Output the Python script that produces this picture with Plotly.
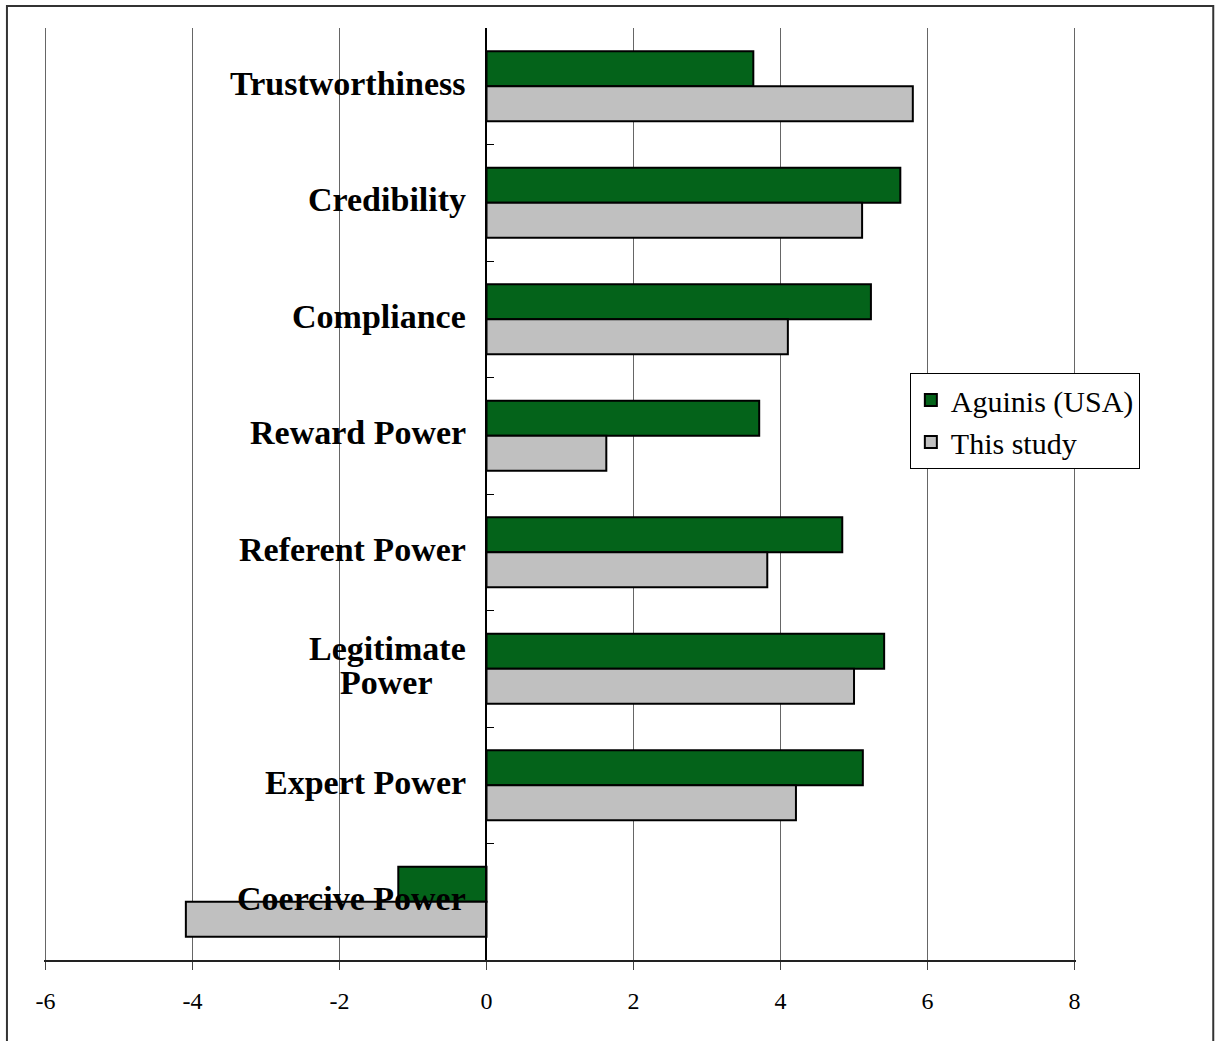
import plotly.graph_objects as go

# Power / influence measures (top to bottom)
categories = [
    "Trustworthiness",
    "Credibility",
    "Compliance",
    "Reward Power",
    "Referent Power",
    "Legitimate<br>Power",
    "Expert Power",
    "Coercive Power",
]
aguinis_usa = [3.63, 5.63, 5.23, 3.71, 4.84, 5.41, 5.12, -1.20]
this_study = [5.80, 5.11, 4.10, 1.63, 3.82, 5.00, 4.21, -4.09]
x_ticks = [-6, -4, -2, 0, 2, 4, 6, 8]

SERIF = "Liberation Serif, Times New Roman, serif"
X_MIN, X_MAX = -6, 8
X_PAD = 0.02          # keeps the end gridlines from being clipped
LABEL_SIZE = 34

# Approximate advance widths (em) of Liberation Serif Bold, used to centre
# the lines of a wrapped category label under each other.
_BOLD_W = {
    "L": .667, "P": .611, "e": .444, "g": .5, "i": .278, "t": .333, "m": .833,
    "a": .5, "o": .5, "w": .722, "r": .444,
}


def text_width(s, size):
    return sum(_BOLD_W.get(c, .5) for c in s) * size


fig = go.Figure()
fig.add_trace(go.Bar(
    y=categories, x=aguinis_usa, orientation="h", name="Aguinis (USA)",
    marker=dict(color="#04631a", line=dict(color="black", width=2)),
))
fig.add_trace(go.Bar(
    y=categories, x=this_study, orientation="h", name="This study",
    marker=dict(color="#c0c0c0", line=dict(color="black", width=2)),
))

# Category labels sit just left of the zero line; wrapped labels are drawn
# line by line with a tighter line pitch, each line centred on the widest.
LINE_PITCH = 34
for cat in categories:
    lines = cat.split("<br>")
    widest = max(text_width(l, LABEL_SIZE) for l in lines)
    n = len(lines)
    for i, line in enumerate(lines):
        dx = (widest - text_width(line, LABEL_SIZE)) / 2
        fig.add_annotation(
            x=0, y=cat, xref="x", yref="y", text=f"<b>{line}</b>",
            showarrow=False, xanchor="right", yanchor="middle",
            xshift=-19 - dx, yshift=3 + ((n - 1) / 2 - i) * LINE_PITCH,
            font=dict(family=SERIF, size=LABEL_SIZE, color="black"),
        )

# Outer frame around the chart
fig.add_shape(type="path", xref="paper", yref="paper",
              path="M -0.0359,-0.1 L -0.0359,1.0236 L 1.1330,1.0236 L 1.1330,-0.1",
              line=dict(color="#333333", width=2))

fig.update_layout(
    width=1220, height=1041,
    margin=dict(l=44, r=144, t=28, b=81),
    paper_bgcolor="white", plot_bgcolor="white",
    barmode="group", bargap=0.4, bargroupgap=0,
    font=dict(family=SERIF, color="black"),
    legend=dict(
        x=0.839, y=0.6298, xanchor="left", yanchor="top",
        bgcolor="white", bordercolor="black", borderwidth=1,
        font=dict(family=SERIF, size=30, color="black"),
        itemwidth=30, tracegroupgap=0,
    ),
    xaxis=dict(
        range=[X_MIN - X_PAD, X_MAX + X_PAD], tickvals=x_ticks,
        ticktext=[str(v) for v in x_ticks],
        showgrid=True, gridcolor="#666666", gridwidth=1, zeroline=False,
        showline=True, linecolor="#222222", linewidth=1.5,
        ticks="outside", ticklen=8, tickcolor="#444444",
        ticklabelstandoff=10,
        tickfont=dict(family=SERIF, size=24, color="black"),
    ),
    yaxis=dict(
        type="category", range=[7.5, -0.5],
        anchor="free", position=(0 - X_MIN + X_PAD) / (X_MAX - X_MIN + 2 * X_PAD),
        showline=True, linecolor="black", linewidth=1.5,
        ticks="inside", ticklen=7, tickcolor="black", tickson="boundaries",
        showticklabels=False, showgrid=False, zeroline=False,
    ),
)

fig.write_html("out.html")
